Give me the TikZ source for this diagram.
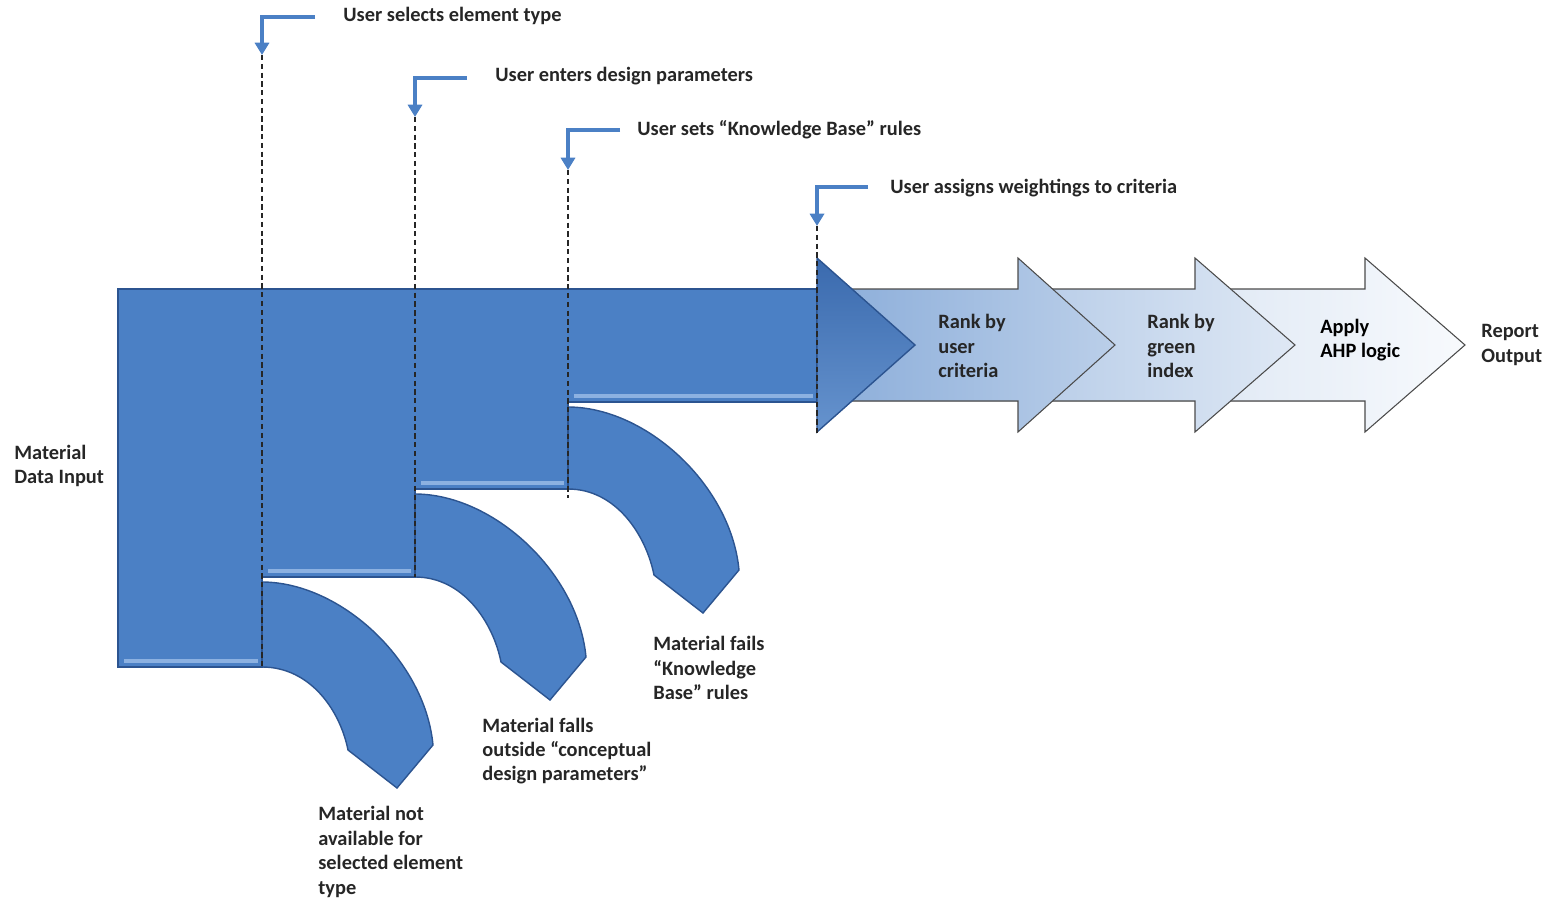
\documentclass[tikz,border=0pt]{standalone}
\usepackage{fontspec}
\setmainfont{Carlito}
\usepackage{tikz}
\usetikzlibrary{arrows.meta}

\definecolor{flowblue}{HTML}{4B80C5}
\definecolor{flowedge}{HTML}{2C5490}
\definecolor{headblue}{HTML}{3A6AAE}
\definecolor{lightrim}{HTML}{9DBEE8}

\begin{document}
\begin{tikzpicture}[x=0.02cm, y=-0.02cm,
  every node/.style={font=\fontsize{11.6}{13.9}\selectfont\bfseries, text=black!85, align=left, inner sep=0pt},
  callout/.style={draw=flowblue, line width=2.8pt, -{Triangle[width=8pt,length=7pt]}},
  guide/.style={dash pattern=on 3pt off 2pt, line width=0.6pt, draw=black!85},
  band/.style={fill=flowblue, draw=flowedge, line width=0.8pt},
  rim/.style={draw=lightrim, line width=2.5pt, opacity=0.8},
  stage/.style={draw=gray!60!black, line width=0.6pt}]
  \useasboundingbox (0,0) rectangle (1553,900);

  % later stages, drawn back to front
  \filldraw[stage, left color=flowblue!16!white, right color=flowblue!4!white] (1230,289) -- (1365,289) -- (1365,258) -- (1465,345) -- (1365,432) -- (1365,401) -- (1230,401) -- cycle;
  \filldraw[stage, left color=flowblue!38!white, right color=flowblue!18!white] (1050,289) -- (1195,289) -- (1195,258) -- (1295,345) -- (1195,432) -- (1195,401) -- (1050,401) -- cycle;
  \filldraw[stage, left color=flowblue!62!white, right color=flowblue!38!white] (850,289) -- (1018,289) -- (1018,258) -- (1115,345) -- (1018,432) -- (1018,401) -- (850,401) -- cycle;

  % rejected branches
  \filldraw[band] (262,582) .. controls (340,582) and (425,660) .. (433,745) -- (397,788) -- (348,750) .. controls (340,710) and (310,667) .. (262,667) -- cycle;
  \filldraw[band] (415,494) .. controls (493,494) and (578,572) .. (586,657) -- (550,700) -- (501,662) .. controls (493,622) and (463,577) .. (415,577) -- cycle;
  \filldraw[band] (568,407) .. controls (646,407) and (731,485) .. (739,570) -- (703,613) -- (654,575) .. controls (646,535) and (616,489) .. (568,489) -- cycle;

  % main flow
  \filldraw[band] (118,289) -- (817,289) -- (817,402) -- (568,402) -- (568,489) -- (415,489) -- (415,577) -- (262,577) -- (262,667) -- (118,667) -- cycle;
  \draw[rim] (124,661) -- (258,661);
  \draw[rim] (268,571) -- (411,571);
  \draw[rim] (421,483) -- (564,483);
  \draw[rim] (574,396) -- (813,396);
  \filldraw[draw=flowedge, line width=0.8pt, top color=headblue, bottom color=flowblue!85!white] (817,258) -- (915,345) -- (817,432) -- cycle;

  % decision points
  \coordinate (e1) at (315,17);  \coordinate (s1) at (262,55);  \coordinate (g1) at (262,667);
  \coordinate (e2) at (467,78);  \coordinate (s2) at (415,117); \coordinate (g2) at (415,577);
  \coordinate (e3) at (620,130); \coordinate (s3) at (568,170); \coordinate (g3) at (568,498);
  \coordinate (e4) at (868,187); \coordinate (s4) at (817,226); \coordinate (g4) at (817,435);
  \draw[callout] (e1) -| (s1);
  \draw[callout] (e2) -| (s2);
  \draw[callout] (e3) -| (s3);
  \draw[callout] (e4) -| (s4);
  \draw[guide] (s1) -- (g1);
  \draw[guide] (s2) -- (g2);
  \draw[guide] (s3) -- (g3);
  \draw[guide] (s4) -- (g4);

  \node[anchor=west] (sel) at (343,16) {User selects element type};
  \node[anchor=west] (par) at (495,76) {User enters design parameters};
  \node[anchor=west] (kb) at (637,130) {User sets “Knowledge Base” rules};
  \node[anchor=west] (wt) at (890,188) {User assigns weightings to criteria};

  \node[anchor=west] (input) at (14,466) {Material\\Data Input};
  \node[anchor=west] (rank1) at (938,346) {Rank by\\user\\criteria};
  \node[anchor=west] (rank2) at (1147,346) {Rank by\\green\\index};
  \node[anchor=west, text=black] (ahp) at (1320,340) {Apply\\AHP logic};
  \node[anchor=west] (out) at (1481,345) {Report\\Output};

  \node[anchor=west] (rej1) at (318,852) {Material not\\available for\\selected element\\type};
  \node[anchor=west] (rej2) at (482,751) {Material falls\\outside “conceptual\\design parameters”};
  \node[anchor=west] (rej3) at (653,668) {Material fails\\“Knowledge\\Base” rules};
\end{tikzpicture}
\end{document}
